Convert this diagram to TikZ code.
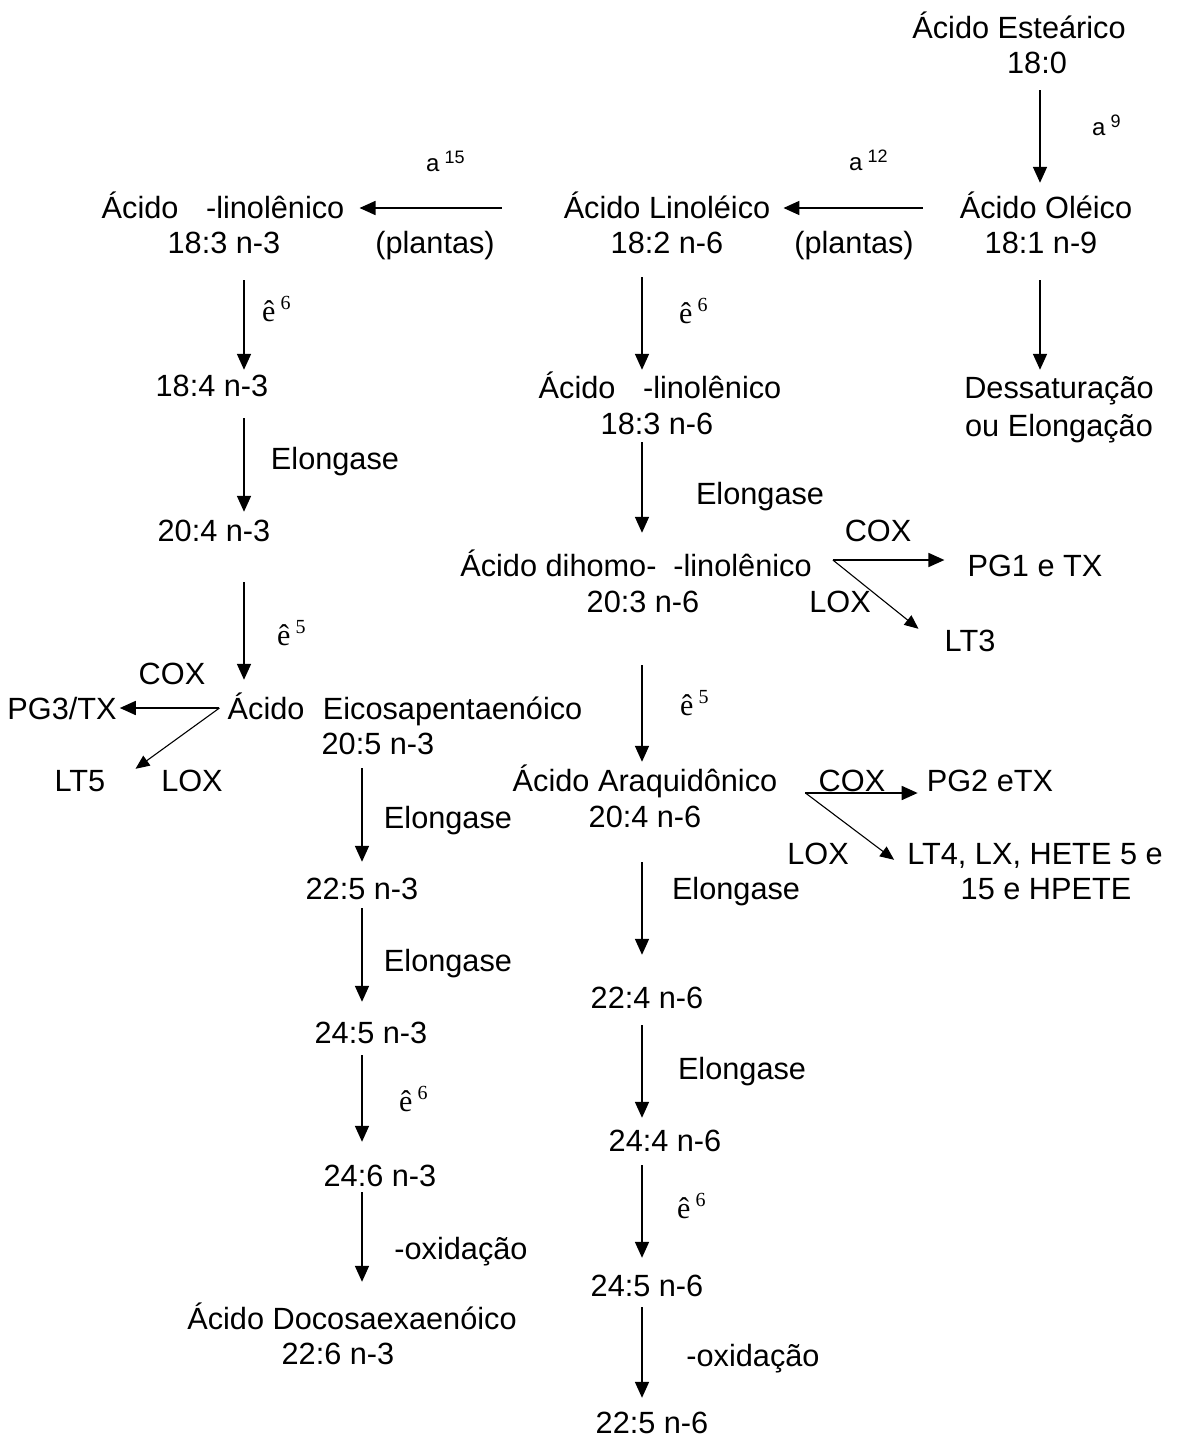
\documentclass[tikz,border=0pt]{standalone}
\usepackage{fontspec}
\setmainfont{Liberation Sans}
\newfontfamily\serifx{Liberation Serif}
\usetikzlibrary{arrows.meta}
\newcommand\mainsz{\fontsize{30.7}{35}\selectfont}
\newcommand\asup[1]{{\fontsize{24}{26}\selectfont a\hspace{5pt}\raisebox{8pt}{\fontsize{18}{20}\selectfont #1}}}
\newcommand\esup[1]{{\serifx\fontsize{30}{32}\selectfont ê\hspace{5pt}\raisebox{12pt}{\fontsize{20}{22}\selectfont #1}}}
\tikzset{
  txt/.style={font=\mainsz, inner sep=0pt, text height=22pt, text depth=6pt, anchor=base},
  lbl/.style={inner sep=0pt, anchor=base west},
  arr/.style={-{Triangle[width=14pt,length=16pt]}, line width=1.7pt},
  brarr/.style={-{Triangle[width=12pt,length=14pt]}, line width=1.1pt},
}
\begin{document}
\begin{tikzpicture}[x=1pt,y=-1pt]
\useasboundingbox (0,0) rectangle (1184,1439);
\coordinate (colL) at (244,0);
\coordinate (colE) at (362,0);
\coordinate (colM) at (642,0);
\coordinate (colR) at (1040,0);
% main compounds
\node[txt] (est1) at (1019,39) {Ácido Esteárico};
\node[txt] (est2) at (1037,74) {18:0};
\node[txt] (ole1) at (1046,219) {Ácido Oléico};
\node[txt] (ole2) at (1041,254) {18:1 n-9};
\node[txt] (lin1) at (667,219) {Ácido Linoléico};
\node[txt] (lin2) at (667,254) {18:2 n-6};
\node[txt] (alin1) at (223,219) {Ácido\hspace*{.9em}-linolênico};
\node[txt] (alin2) at (224,254) {18:3 n-3};
\node[txt] (des1) at (1059,398) {Dessaturação};
\node[txt] (des2) at (1059,436) {ou Elongação};
\node[txt] (glin1) at (660,398) {Ácido\hspace*{.9em}-linolênico};
\node[txt] (glin2) at (657,434) {18:3 n-6};
\node[txt] (n184) at (212,396) {18:4 n-3};
\node[txt] (n204) at (214,541) {20:4 n-3};
\node[txt] (dih1) at (636,576) {Ácido dihomo-\hspace*{.55em}-linolênico};
\node[txt] (dih2) at (643,612) {20:3 n-6};
\node[txt] (pg1) at (1035,576) {PG1 e TX};
\node[txt] (lt3) at (970,651) {LT3};
\node[txt] (eic1) at (405,719) {Ácido\hspace*{.6em}Eicosapentaenóico};
\node[txt] (eic2) at (378,754) {20:5 n-3};
\node[txt] (pg3) at (62,719) {PG3/TX};
\node[txt] (lt5) at (80,791) {LT5};
\node[txt] (ara1) at (645,791) {Ácido Araquidônico};
\node[txt] (ara2) at (645,827) {20:4 n-6};
\node[txt] (pg2) at (990,791) {PG2 eTX};
\node[txt] (lt4a) at (1035,864) {LT4, LX, HETE 5 e};
\node[txt] (lt4b) at (1046,899) {15 e HPETE};
\node[txt] (n225a) at (362,899) {22:5 n-3};
\node[txt] (n245a) at (371,1043) {24:5 n-3};
\node[txt] (n246) at (380,1186) {24:6 n-3};
\node[txt] (doc1) at (352,1329) {Ácido Docosaexaenóico};
\node[txt] (doc2) at (338,1364) {22:6 n-3};
\node[txt] (n224) at (647,1008) {22:4 n-6};
\node[txt] (n244) at (665,1151) {24:4 n-6};
\node[txt] (n245) at (647,1296) {24:5 n-6};
\node[txt] (n225) at (652,1433) {22:5 n-6};
% enzyme labels
\node[lbl] (la9) at (1092,136) {\asup{9}};
\node[lbl] (la12) at (849,171) {\asup{12}};
\node[lbl] (la15) at (426,172) {\asup{15}};
\node[lbl] (e1) at (262,321) {\esup{6}};
\node[lbl] (e2) at (679,323) {\esup{6}};
\node[lbl] (e3) at (277,645) {\esup{5}};
\node[lbl] (e4) at (680,715) {\esup{5}};
\node[lbl] (e5) at (399,1111) {\esup{6}};
\node[lbl] (e6) at (677,1218) {\esup{6}};
\node[txt] (pl1) at (854,254) {(plantas)};
\node[txt] (pl2) at (435,254) {(plantas)};
\node[txt] (el1) at (335,469) {Elongase};
\node[txt] (el2) at (760,504) {Elongase};
\node[txt] (el3) at (448,828) {Elongase};
\node[txt] (el4) at (448,971) {Elongase};
\node[txt] (el5) at (736,899) {Elongase};
\node[txt] (el6) at (742,1079) {Elongase};
\node[txt] (ox1) at (461,1259) {-oxidação};
\node[txt] (ox2) at (753,1366) {-oxidação};
\node[txt] (cox1) at (878,541) {COX};
\node[txt] (lox1) at (840,612) {LOX};
\node[txt] (cox2) at (852,791) {COX};
\node[txt] (lox2) at (818,864) {LOX};
\node[txt] (cox3) at (172,684) {COX};
\node[txt] (lox3) at (192,791) {LOX};
% vertical arrows, right column
\draw[arr, shorten <=10pt, shorten >=14pt] (est2.south -| colR) -- (ole1.north -| colR);
\draw[arr, shorten <=20pt, shorten >=6pt] (ole2.south -| colR) -- (des1.north -| colR);
% middle column
\draw[arr, shorten <=17pt, shorten >=6pt] (lin2.south -| colM) -- (glin1.north -| colM);
\draw[arr, shorten <=2pt, shorten >=21pt] (glin2.south -| colM) -- (dih1.north -| colM);
\draw[arr, shorten <=47pt, shorten >=7pt] (dih2.south -| colM) -- (ara1.north -| colM);
\draw[arr, shorten <=29pt, shorten >=31pt] (ara2.south -| colM) -- (n224.north -| colM);
\draw[arr, shorten <=11pt, shorten >=11pt] (n224.south -| colM) -- (n244.north -| colM);
\draw[arr, shorten <=8pt, shorten >=16pt] (n244.south -| colM) -- (n245.north -| colM);
\draw[arr, shorten <=5pt, shorten >=13pt] (n245.south -| colM) -- (n225.north -| colM);
% left column
\draw[arr, shorten <=20pt, shorten >=4pt] (alin2.south -| colL) -- (n184.north -| colL);
\draw[arr, shorten <=16pt, shorten >=7pt] (n184.south -| colL) -- (n204.north -| colL);
\draw[arr, shorten <=35pt, shorten >=17pt] (n204.south -| colL) -- (eic1.north -| colL);
% EPA column
\draw[arr, shorten <=8pt, shorten >=15pt] (eic2.south -| colE) -- (n225a.north -| colE);
\draw[arr, shorten <=3pt, shorten >=19pt] (n225a.south -| colE) -- (n245a.north -| colE);
\draw[arr, shorten <=6pt, shorten >=22pt] (n245a.south -| colE) -- (n246.north -| colE);
\draw[arr, shorten <=0pt, shorten >=25pt] (n246.south -| colE) -- (doc1.north -| colE);
% horizontal desaturations
\draw[arr, shorten <=37pt, shorten >=13pt] ([yshift=3pt]ole1.west) -- ([yshift=3pt]lin1.east);
\draw[arr, shorten <=62pt, shorten >=15pt] ([yshift=3pt]lin1.west) -- ([yshift=3pt]alin1.east);
% COX / LOX branches
\coordinate (dihb) at ([xshift=21pt,yshift=8pt]dih1.east);
\draw[arr, shorten >=23pt] (dihb) -- ([yshift=8pt]pg1.west);
\draw[brarr] (dihb) -- ([xshift=-26pt]lt3.north west);
\coordinate (arab) at ([xshift=28pt,yshift=-10pt]ara1.east);
\draw[arr, shorten >=9pt] (arab) -- ([yshift=-10pt]pg2.west);
\draw[brarr] (arab) -- ([xshift=-13pt,yshift=-18pt]lt4a.north west);
\coordinate (eicb) at ([xshift=-8pt,yshift=3pt]eic1.west);
\draw[arr, shorten >=3pt] (eicb) -- ([yshift=3pt]pg3.east);
\draw[brarr] (eicb) -- ([xshift=30pt]lt5.north east);
\end{tikzpicture}
\end{document}
